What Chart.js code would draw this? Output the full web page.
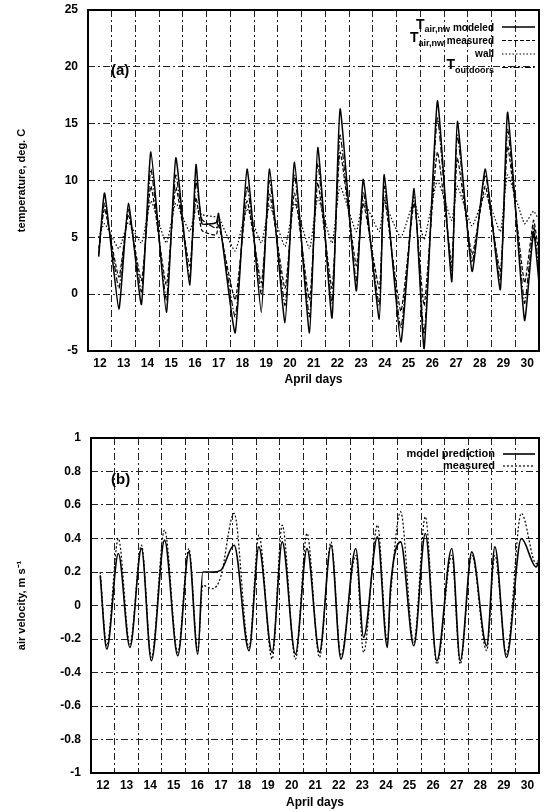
<!DOCTYPE html>
<html>
<head>
<meta charset="utf-8">
<script src="https://cdn.jsdelivr.net/npm/chart.js@4/dist/chart.umd.min.js"></script>
<style>
  body { margin: 0; background: #fff; }
  canvas { position: absolute; left: 0; }
  #topChart { top: 0; }
  #bottomChart { top: 400px; }
</style>
</head>
<body>
<canvas id="topChart" width="544" height="400"></canvas>
<canvas id="bottomChart" width="544" height="412"></canvas>
<script>
// x tick labels (April days)
const dayLabels = ['12','13','14','15','16','17','18','19','20','21','22','23','24','25','26','27','28','29','30'];

// (a) temperatures, deg. C, read at troughs / peaks
const tempDays = [12.45, 12.7, 13.3, 13.7, 14.25, 14.65, 15.3, 15.7, 16.28, 16.55, 16.8, 17.4, 17.5, 18.2, 18.7, 19.3, 19.65, 20.3, 20.7, 21.33, 21.68, 22.28, 22.62, 23.3, 23.6, 24.27, 24.48, 25.18, 25.74, 26.16, 26.72, 27.32, 27.56, 28.18, 28.74, 29.37, 29.68, 30.39, 30.77, 31.0];
const tempModeled = [3.3, 8.9, -1.3, 8.0, -0.9, 12.5, -1.6, 12.0, 0.8, 11.4, 6.2, 6.3, 7.1, -3.4, 11.0, -1.6, 11.0, -2.5, 11.6, -3.4, 12.9, -2.1, 16.3, 0.3, 10.1, -2.2, 10.5, -4.2, 9.3, -4.8, 17.0, 1.1, 15.2, 2.0, 11.0, 0.4, 16.0, -2.3, 5.5, 1.0];
const tempMeasured = [4.0, 7.5, 1.5, 7.0, 1.2, 9.5, 0.8, 9.4, 2.5, 8.5, 5.6, 5.2, 6.2, -0.5, 8.2, 1.0, 8.8, 0.5, 8.9, -0.5, 9.8, 0.5, 12.5, 2.5, 8.0, 0.5, 8.5, -1.5, 8.0, -1.0, 12.5, 2.8, 12.0, 3.5, 9.5, 2.0, 13.0, 1.0, 6.5, 3.5];
const tempWall = [5.0, 6.2, 4.0, 6.3, 4.5, 8.2, 4.5, 8.0, 5.5, 7.5, 7.0, 6.8, 6.8, 3.8, 7.5, 4.5, 7.8, 4.2, 8.0, 4.0, 8.5, 4.5, 9.5, 5.5, 8.2, 5.5, 8.0, 5.0, 8.2, 4.8, 10.0, 6.5, 9.5, 6.0, 8.8, 5.5, 10.5, 6.2, 7.3, 6.5];
const tempOutdoors = [3.5, 8.0, 0.5, 7.5, 0.2, 11.0, -0.5, 10.5, 1.5, 10.0, 6.6, 5.8, 6.8, -2.0, 9.5, 0.0, 10.0, -1.0, 10.5, -2.0, 11.5, -0.8, 14.0, 1.2, 9.0, -1.0, 9.5, -3.0, 8.8, -3.5, 15.5, 2.0, 14.0, 2.8, 10.5, 1.2, 14.5, -0.8, 6.0, 2.0];

// (b) air velocity, m/s
const velDays = [12.39, 12.67, 13.16, 13.65, 14.14, 14.56, 15.12, 15.68, 16.15, 16.53, 16.74, 17.16, 17.5, 18.07, 18.70, 19.12, 19.68, 20.11, 20.67, 21.16, 21.69, 22.18, 22.6, 23.23, 23.56, 24.15, 24.57, 24.7, 25.13, 25.69, 26.18, 26.67, 27.3, 27.66, 28.15, 28.78, 29.13, 29.62, 30.25, 30.88, 31.0];
const velModel = [0.18, -0.26, 0.31, -0.25, 0.34, -0.33, 0.39, -0.30, 0.32, -0.29, 0.20, 0.20, 0.21, 0.36, -0.27, 0.35, -0.28, 0.38, -0.29, 0.34, -0.28, 0.36, -0.32, 0.34, -0.19, 0.41, -0.25, 0.10, 0.38, -0.24, 0.43, -0.33, 0.34, -0.33, 0.32, -0.24, 0.35, -0.31, 0.40, 0.23, 0.27];
const velMeasured = [0.20, -0.24, 0.40, -0.23, 0.36, -0.31, 0.45, -0.28, 0.34, -0.27, 0.12, 0.10, 0.17, 0.55, -0.25, 0.42, -0.32, 0.48, -0.32, 0.43, -0.31, 0.38, -0.30, 0.30, -0.28, 0.48, -0.22, 0.05, 0.56, -0.22, 0.53, -0.35, 0.30, -0.35, 0.30, -0.27, 0.30, -0.29, 0.55, 0.25, 0.28];

const FONT = '"Liberation Sans", Arial, Helvetica, sans-serif';

function pts(xs, ys) {
    return xs.map((x, i) => ({ x: x, y: ys[i] }));
}

// frame, panel letter and legend drawn on top of the plot
const decor = {
    id: 'decor',
    afterDraw(chart, args, opts) {
        const ctx = chart.ctx;
        const a = chart.chartArea;
        ctx.save();
        ctx.strokeStyle = '#000';
        ctx.lineWidth = 2;
        ctx.setLineDash([]);
        ctx.strokeRect(a.left, a.top, a.right - a.left, a.bottom - a.top);

        ctx.fillStyle = '#000';
        ctx.font = 'bold 15px ' + FONT;
        ctx.textBaseline = 'middle';
        ctx.textAlign = 'left';
        ctx.fillText(opts.panel, a.left + opts.panelX, a.top + opts.panelY);

        const textRight = a.right - opts.legendGap;
        chart.data.datasets.forEach((ds, i) => {
            const y = a.top + opts.legendTop + i * opts.legendStep;
            // label "T_sub rest": big T, subscript, then rest
            let main = ds.label, sub = '', rest = '';
            const u = ds.label.indexOf('_');
            if (u >= 0) {
                main = ds.label.slice(0, u);
                const s = ds.label.slice(u + 1);
                const sp = s.indexOf(' ');
                sub = sp >= 0 ? s.slice(0, sp) : s;
                rest = sp >= 0 ? s.slice(sp) : '';
            }
            const mainFont = (u >= 0 ? 'bold 14px ' : 'bold ' + opts.legendSize + 'px ') + FONT;
            const subFont = 'bold 9px ' + FONT;
            const restFont = 'bold ' + opts.legendSize + 'px ' + FONT;
            ctx.font = mainFont; const w1 = ctx.measureText(main).width;
            ctx.font = subFont; const w2 = ctx.measureText(sub).width;
            ctx.font = restFont; const w3 = ctx.measureText(rest).width;
            let x = textRight - (w1 + w2 + w3);
            ctx.textAlign = 'left';
            ctx.font = mainFont; ctx.fillText(main, x, y - (u >= 0 ? 2 : 0)); x += w1;
            ctx.font = subFont; ctx.fillText(sub, x, y + 3); x += w2;
            ctx.font = restFont; ctx.fillText(rest, x, y + 1);

            ctx.strokeStyle = '#000';
            ctx.lineWidth = ds.borderWidth;
            ctx.setLineDash(ds.borderDash || []);
            ctx.beginPath();
            ctx.moveTo(textRight + 8, y);
            ctx.lineTo(a.right - 4, y);
            ctx.stroke();
        });
        ctx.restore();
    }
};

function xScale(tickPad, titlePadBottom, height) {
    return {
        type: 'linear', min: 12, max: 31,
        afterFit: (s) => { s.height = height; },
        afterBuildTicks: (s) => {
            s.ticks = [];
            for (let d = 12; d <= 31; d++) s.ticks.push({ value: d });
        },
        grid: { color: '#222', lineWidth: 1, drawTicks: false },
        border: { display: false, dash: [7, 3, 2, 3] },
        ticks: {
            color: '#000', padding: tickPad, labelOffset: 12, maxRotation: 0, autoSkip: false,
            font: { family: FONT, size: 12, weight: 'bold' },
            callback: (v) => dayLabels[v - 12] || ''
        },
        title: {
            display: true, text: 'April days', color: '#000',
            font: { family: FONT, size: 12, weight: 'bold' },
            padding: { top: 0, bottom: titlePadBottom }
        }
    };
}

function yScale(min, max, step, width, title, fmt) {
    return {
        min: min, max: max,
        afterFit: (s) => { s.width = width; s.paddingTop = 7; s.paddingBottom = 7; },
        grid: { color: '#222', lineWidth: 1, drawTicks: false },
        border: { display: false, dash: [7, 3, 2, 3] },
        ticks: {
            stepSize: step, color: '#000', padding: 10,
            font: { family: FONT, size: 12, weight: 'bold' },
            callback: fmt
        },
        title: {
            display: true, text: title, color: '#000',
            font: { family: FONT, size: 11, weight: 'bold' },
            padding: { top: 15, bottom: 0 }
        }
    };
}

const lineBase = { pointRadius: 0, borderColor: '#000', fill: false };

new Chart(document.getElementById('topChart'), {
    type: 'line',
    data: {
        datasets: [
            Object.assign({ label: 'T_air,nw modeled', data: pts(tempDays, tempModeled), borderWidth: 1.5, tension: 0.15 }, lineBase),
            Object.assign({ label: 'T_air,nw measured', data: pts(tempDays, tempMeasured), borderWidth: 1.2, borderDash: [4, 2], tension: 0.15 }, lineBase),
            Object.assign({ label: 'wall', data: pts(tempDays, tempWall), borderWidth: 1.2, borderDash: [1.5, 2], tension: 0.15 }, lineBase),
            Object.assign({ label: 'T_outdoors', data: pts(tempDays, tempOutdoors), borderWidth: 1.2, borderDash: [6, 2, 1.5, 2], tension: 0.15 }, lineBase)
        ]
    },
    options: {
        responsive: false, animation: false,
        layout: { padding: { top: 10, right: 4, left: 0, bottom: 0 } },
        plugins: {
            legend: { display: false }, tooltip: { enabled: false },
            decor: { panel: '(a)', panelX: 23, panelY: 61, legendTop: 17, legendStep: 13.5, legendGap: 45, legendSize: 10 }
        },
        scales: {
            x: xScale(5, 13, 49),
            y: yScale(-5, 25, 5, 88, 'temperature, deg. C', (v) => String(v))
        }
    },
    plugins: [decor]
});

new Chart(document.getElementById('bottomChart'), {
    type: 'line',
    data: {
        datasets: [
            Object.assign({ label: 'model prediction', data: pts(velDays, velModel), borderWidth: 1.6, cubicInterpolationMode: 'monotone' }, lineBase),
            Object.assign({ label: 'measured', data: pts(velDays, velMeasured), borderWidth: 1.2, borderDash: [2, 2], cubicInterpolationMode: 'monotone' }, lineBase)
        ]
    },
    options: {
        responsive: false, animation: false,
        layout: { padding: { top: 38, right: 3, left: 0, bottom: 0 } },
        plugins: {
            legend: { display: false }, tooltip: { enabled: false },
            decor: { panel: '(b)', panelX: 20, panelY: 42, legendTop: 16, legendStep: 12, legendGap: 44, legendSize: 11 }
        },
        scales: {
            x: xScale(5, 2, 39),
            y: yScale(-1, 1, 0.2, 91, 'air velocity, m s\u207B\u00B9', (v) => String(Math.round(v * 10) / 10))
        }
    },
    plugins: [decor]
});
</script>
</body>
</html>
